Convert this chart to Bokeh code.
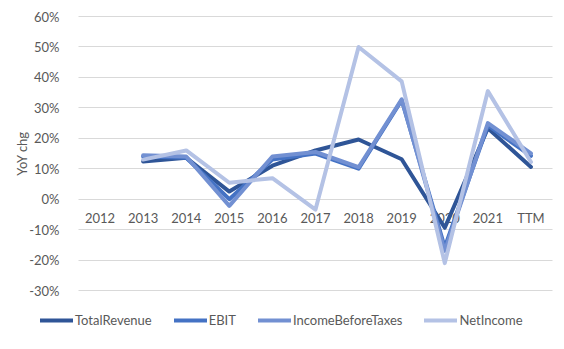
from bokeh.plotting import figure
from bokeh.models import (FixedTicker, PrintfTickFormatter, Legend, LegendItem,
                          ColumnDataSource, Range1d)
from bokeh.core.properties import value
from bokeh.embed import file_html
from bokeh.resources import INLINE

nan = float("nan")
categories = ["2012", "2013", "2014", "2015", "2016", "2017", "2018", "2019", "2020", "2021", "TTM"]
total_revenue = [nan, 12.4, 13.6, 2.5, 11.0, 16.0, 19.6, 13.1, -9.4, 23.3, 10.6]
ebit = [nan, 14.0, 13.6, 0.0, 13.0, 15.0, 10.0, 32.5, -15.8, 24.2, 14.2]
income_before_taxes = [nan, 14.4, 14.0, -2.2, 14.0, 15.5, 10.5, 32.8, -17.0, 25.0, 15.0]
net_income = [nan, 13.0, 16.0, 5.4, 6.9, -3.4, 50.0, 38.7, -21.0, 35.5, 12.2]
y_ticks = [-30, -20, -10, 0, 10, 20, 30, 40, 50, 60]

series = [
    ("TotalRevenue", total_revenue, "#2F5597"),
    ("EBIT", ebit, "#4472C4"),
    ("IncomeBeforeTaxes", income_before_taxes, "#7290D2"),
    ("NetIncome", net_income, "#B4C2E5"),
]

FONT = "Lato"
TXT = "#595959"

x_pos = list(range(len(categories)))          # category slots 0..10
n = len(categories)
px_per_cat = 474 / n                           # plot area 78..552 px
x_lo = -0.5 - 78 / px_per_cat
x_hi = n - 0.5 + 12 / px_per_cat
px_per_unit = 274 / 90                         # 60..-30 spans 274 px, top at 16 px
y_hi = 60 + 16 / px_per_unit
y_lo = 60 - 333 / px_per_unit

p = figure(width=564, height=349, x_range=Range1d(x_lo, x_hi),
           y_range=Range1d(y_lo, y_hi),
           output_backend="svg", toolbar_location=None,
           min_border_left=0, min_border_right=0, min_border_top=0, min_border_bottom=0)
p.outline_line_color = None
p.xaxis.visible = False
p.xgrid.visible = False

p.yaxis.fixed_location = -0.5
p.yaxis.bounds = (-30, 60)
p.yaxis.ticker = FixedTicker(ticks=y_ticks)
p.yaxis.formatter = PrintfTickFormatter(format="%d%%")
p.yaxis.axis_line_color = None
p.yaxis.major_tick_line_color = None
p.yaxis.minor_tick_line_color = None
p.yaxis.major_label_standoff = 13
p.yaxis.major_label_text_font = FONT
p.yaxis.major_label_text_font_size = "13px"
p.yaxis.major_label_text_color = TXT
p.yaxis.axis_label = "YoY chg"
p.yaxis.axis_label_standoff = -4
p.yaxis.axis_label_text_font = FONT
p.yaxis.axis_label_text_font_size = "13px"
p.yaxis.axis_label_text_font_style = "normal"
p.yaxis.axis_label_text_color = TXT

p.ygrid.ticker = FixedTicker(ticks=y_ticks)
p.ygrid.cross_bounds = (-0.5, n - 0.5)
p.ygrid.grid_line_color = "#D9D9D9"
p.ygrid.grid_line_width = 1

# category labels sit just under the 0% line
src = ColumnDataSource(dict(x=x_pos, y=[0] * n, t=categories))
p.text(x="x", y="y", text="t", source=src, text_font=value(FONT), text_font_size="13px",
       text_color=TXT, text_align="center", text_baseline="middle", y_offset=19)

items = []
for name, vals, color in series:
    r = p.line(x=x_pos, y=vals, line_color=color, line_width=4,
               line_join="round", line_cap="round")
    items.append(LegendItem(label=name, renderers=[r]))

lg = Legend(items=items, location=(40, 19), orientation="horizontal",
            padding=0, margin=0, spacing=22,
            border_line_alpha=0, background_fill_alpha=0,
            glyph_width=33, glyph_height=20, label_height=20, label_standoff=2,
            label_text_font=FONT, label_text_font_size="13px",
            label_text_color=TXT)
p.add_layout(lg)

open("out.html", "w").write(file_html(p, INLINE))
